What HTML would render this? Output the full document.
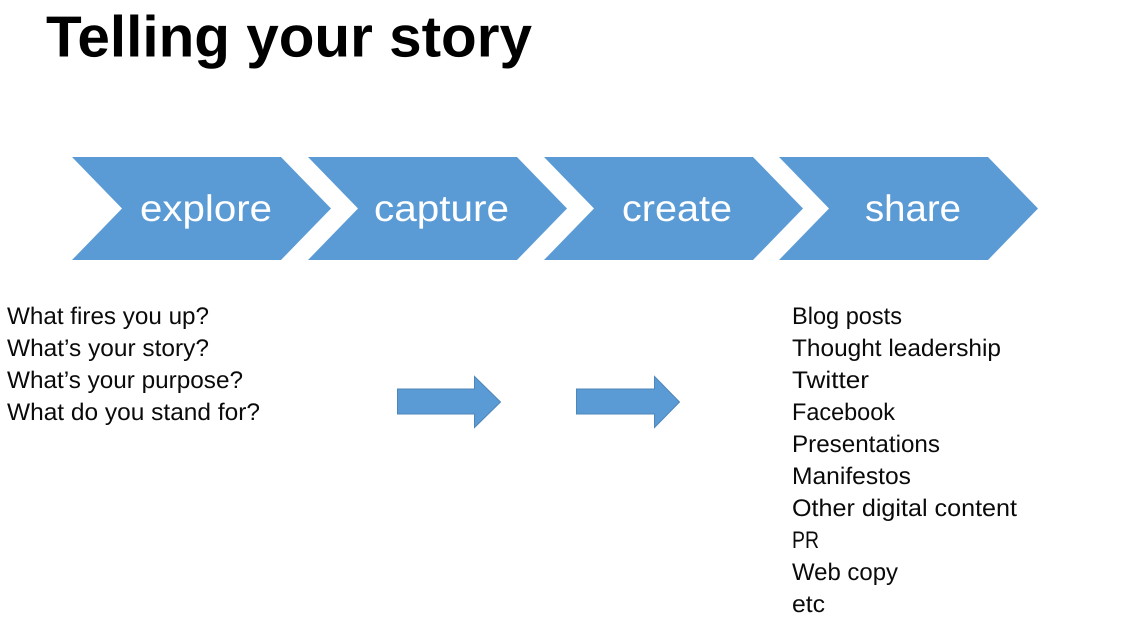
<!DOCTYPE html>
<html><head><meta charset="utf-8"><style>
html,body{margin:0;padding:0;background:#fff;width:1125px;height:641px;overflow:hidden}
svg{display:block}
text{font-family:"Liberation Sans",sans-serif;text-rendering:geometricPrecision}
.b{font-size:24px;fill:#0a0a0a}
.c{font-size:37px;fill:#fff;text-anchor:start}
</style></head><body>
<svg width="1125" height="641" viewBox="0 0 1125 641" xmlns="http://www.w3.org/2000/svg">
<rect width="1125" height="641" fill="#fff"/>
<text x="46" y="56.500" font-size="58" font-weight="700" fill="#000" textLength="486" lengthAdjust="spacingAndGlyphs">Telling your story</text>
<g fill="#5b9bd5">
<polygon points="72,157 281,157 331,208.500 281,260 72,260 122,208.500"/>
<polygon points="308,157 517,157 567,208.500 517,260 308,260 358,208.500"/>
<polygon points="544,157 753,157 803,208.500 753,260 544,260 594,208.500"/>
<polygon points="779,157 988,157 1038,208.500 988,260 779,260 829,208.500"/>
</g>
<text class="c" x="140" y="221" textLength="132" lengthAdjust="spacingAndGlyphs">explore</text>
<text class="c" x="374" y="221" textLength="135" lengthAdjust="spacingAndGlyphs">capture</text>
<text class="c" x="622" y="221" textLength="110" lengthAdjust="spacingAndGlyphs">create</text>
<text class="c" x="865" y="221" textLength="96" lengthAdjust="spacingAndGlyphs">share</text>
<g fill="#5b9bd5" stroke="#4f86b8" stroke-width="1">
<polygon points="397.500,389 474.500,389 474.500,376.500 500.500,402 474.500,427.500 474.500,414 397.500,414"/>
<polygon points="576.500,389 654.500,389 654.500,376.500 679.500,402 654.500,427.500 654.500,414 576.500,414"/>
</g>
<g class="b">
<text class="b" x="7" y="324" textLength="202" lengthAdjust="spacingAndGlyphs">What fires you up?</text>
<text class="b" x="7" y="356" textLength="202" lengthAdjust="spacingAndGlyphs">What’s your story?</text>
<text class="b" x="7" y="388" textLength="236" lengthAdjust="spacingAndGlyphs">What’s your purpose?</text>
<text class="b" x="7" y="420" textLength="253" lengthAdjust="spacingAndGlyphs">What do you stand for?</text>
<text class="b" x="792" y="324" textLength="110" lengthAdjust="spacingAndGlyphs">Blog posts</text>
<text class="b" x="792" y="356" textLength="209" lengthAdjust="spacingAndGlyphs">Thought leadership</text>
<text class="b" x="792" y="388" textLength="77" lengthAdjust="spacingAndGlyphs">Twitter</text>
<text class="b" x="792" y="420" textLength="103" lengthAdjust="spacingAndGlyphs">Facebook</text>
<text class="b" x="792" y="452" textLength="148" lengthAdjust="spacingAndGlyphs">Presentations</text>
<text class="b" x="792" y="484" textLength="119" lengthAdjust="spacingAndGlyphs">Manifestos</text>
<text class="b" x="792" y="516" textLength="225" lengthAdjust="spacingAndGlyphs">Other digital content</text>
<text class="b" x="792" y="548" textLength="27" lengthAdjust="spacingAndGlyphs">PR</text>
<text class="b" x="792" y="580" textLength="106" lengthAdjust="spacingAndGlyphs">Web copy</text>
<text class="b" x="792" y="612" textLength="33" lengthAdjust="spacingAndGlyphs">etc</text>
</g>
</svg>
</body></html>
